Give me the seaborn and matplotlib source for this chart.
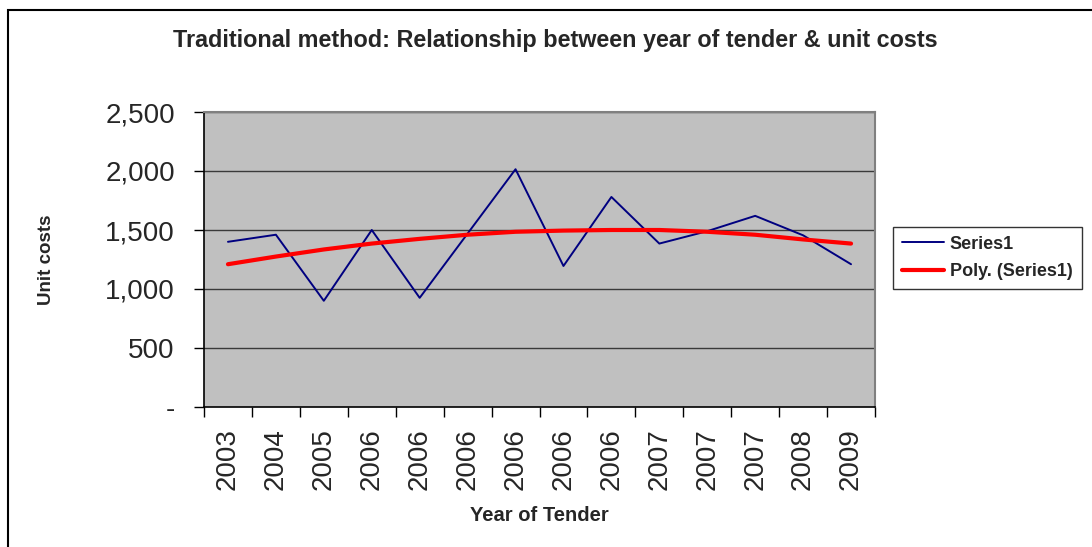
import numpy as np
import pandas as pd
import matplotlib
matplotlib.use("Agg")
from matplotlib import pyplot as plt
from matplotlib.patches import Rectangle
from matplotlib.ticker import FuncFormatter, FixedLocator
import seaborn as sb

# data
years = ["2003", "2004", "2005", "2006", "2006", "2006", "2006",
         "2006", "2006", "2007", "2007", "2007", "2008", "2009"]
unit_costs = [1400, 1460, 900, 1500, 925, 1470, 2015,
              1195, 1780, 1385, 1490, 1620, 1455, 1210]
poly_trend = [1210, 1275, 1335, 1385, 1425, 1460, 1485,
              1495, 1500, 1500, 1485, 1460, 1420, 1385]

df = pd.DataFrame({"pos": np.arange(len(years)),
                   "Series1": unit_costs,
                   "Poly. (Series1)": poly_trend})

sb.set_style("white")
plt.rcParams["font.family"] = ["Liberation Sans", "DejaVu Sans"]

fig = plt.figure(figsize=(10.92, 5.47), dpi=100)
ax = fig.add_axes([204 / 1092, 1 - 407 / 547, 671 / 1092, 295 / 547])
ax.set_facecolor("#C0C0C0")

# outer chart frame
fig.patches.append(Rectangle((8 / 1092, -0.1), 1.2, 1.1 - 9.5 / 547,
                             transform=fig.transFigure, fill=False,
                             edgecolor="black", linewidth=1.5, zorder=0))

# gridlines
for v in [500, 1000, 1500, 2000, 2500]:
    ax.axhline(v, color="#3a3a3a", linewidth=1.0, zorder=1)

sb.lineplot(data=df, x="pos", y="Series1", ax=ax, color="#000080",
            linewidth=1.4, sort=False, label="Series1", zorder=3)
sb.lineplot(data=df, x="pos", y="Poly. (Series1)", ax=ax, color="#FF0000",
            linewidth=3.0, sort=False, label="Poly. (Series1)", zorder=4)

ax.set_xlim(-0.5, len(years) - 0.5)
ax.set_ylim(0, 2500)

# y axis
ax.set_yticks([0, 500, 1000, 1500, 2000, 2500])
ax.yaxis.set_major_formatter(FuncFormatter(lambda v, p: "-" if v == 0 else f"{int(v):,}"))
ax.tick_params(axis="y", which="major", left=True, length=7, width=1,
               color="black", labelsize=20, pad=14)

# x axis: labels at centres, tick marks at boundaries
ax.set_xticks(np.arange(len(years)))
ax.set_xticklabels(years, rotation=90)
ax.xaxis.set_minor_locator(FixedLocator(np.arange(len(years) + 1) - 0.5))
ax.tick_params(axis="x", which="major", bottom=True, length=0,
               labelsize=20, pad=15)
ax.tick_params(axis="x", which="minor", bottom=True, length=7, width=1,
               color="black")

for side in ["top", "right"]:
    ax.spines[side].set_color("#808080")
    ax.spines[side].set_linewidth(1.5)
for side in ["left", "bottom"]:
    ax.spines[side].set_color("black")
    ax.spines[side].set_linewidth(1.2)

ax.set_xlabel("Year of Tender", fontsize=14.5, fontweight="bold", labelpad=12)
ax.set_ylabel("Unit costs", fontsize=13.5, fontweight="bold", labelpad=36)

fig.text(555 / 1092, 1 - 40 / 547,
         "Traditional method: Relationship between year of tender & unit costs",
         ha="center", va="center", fontsize=16.8, fontweight="bold")

leg = ax.legend(loc="center left", bbox_to_anchor=(893 / 1092, 1 - 258 / 547),
                bbox_transform=fig.transFigure, frameon=True, fancybox=False,
                prop={"weight": "bold", "size": 13}, handlelength=2.3,
                borderpad=0.5, labelspacing=0.6, handletextpad=0.35,
                borderaxespad=0)
leg.get_frame().set_edgecolor("black")
leg.get_frame().set_linewidth(1.0)

fig.savefig("out.png", dpi=100)
